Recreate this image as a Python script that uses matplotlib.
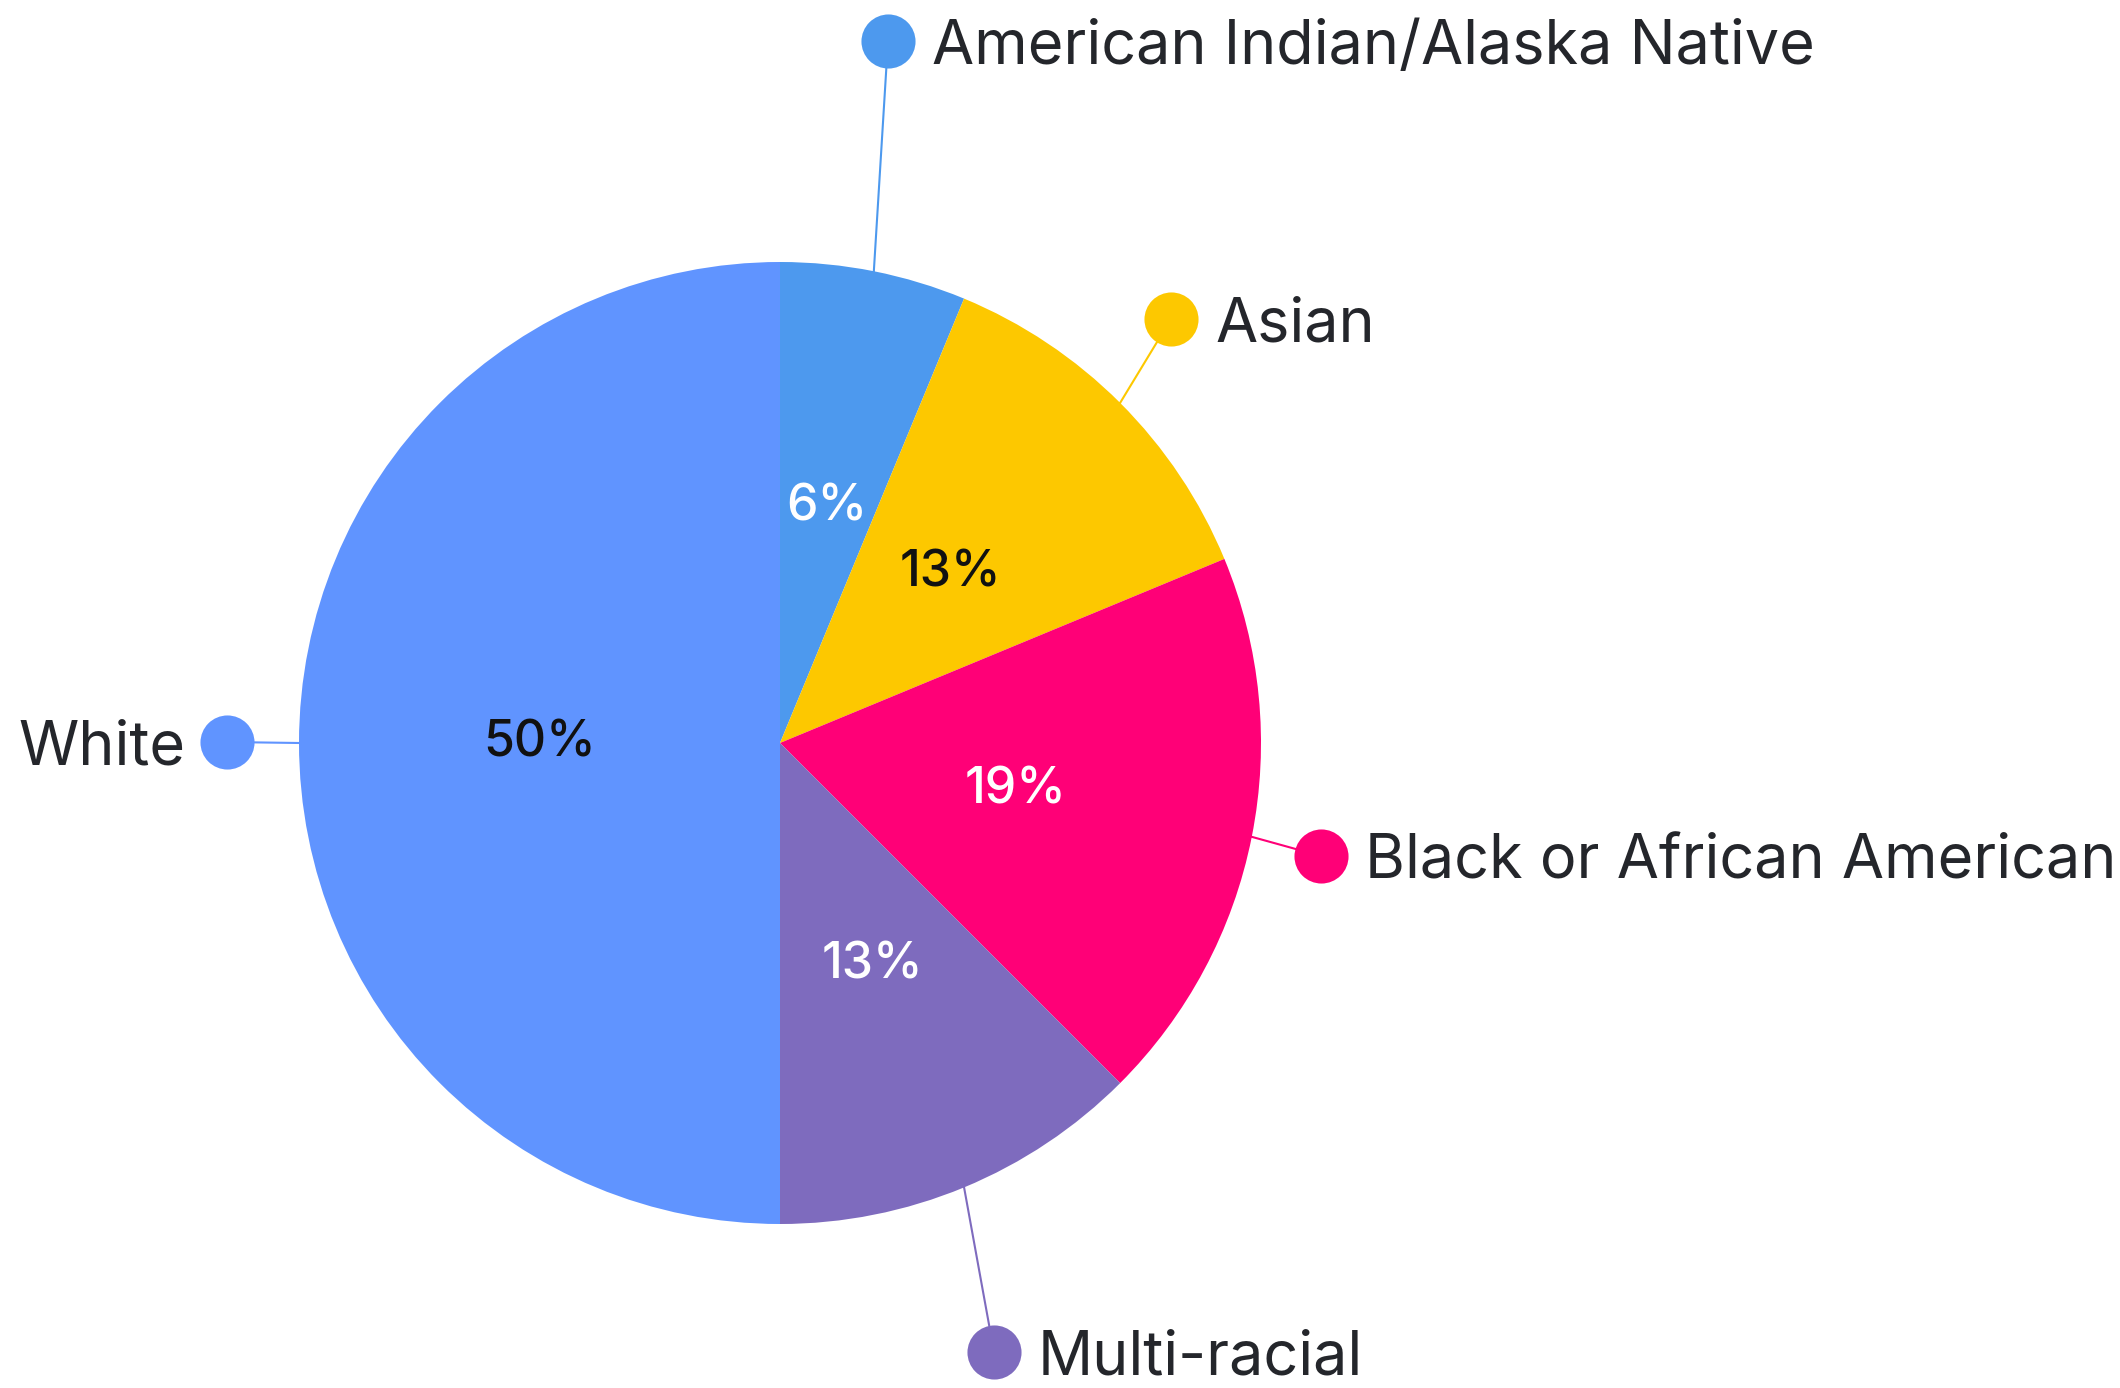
import matplotlib.pyplot as plt
import numpy as np

# data
groups = ["American Indian/Alaska Native", "Asian", "Black or African American",
          "Multi-racial", "White"]
counts = [1, 2, 3, 2, 8]
colors = ["#4D99EE", "#FDC800", "#FF0077", "#7E6BBE", "#6094FF"]
pct_colors = ["white", "#111111", "white", "white", "#111111"]

# layout (pixels, y from top)
cx, cy, r = 780, 743, 481
dots = [(888, 41), (1171, 319), (1321, 856), (994, 1352), (227, 742)]
sides = ["right", "right", "right", "right", "left"]

H = 1388
plt.rcParams['font.family'] = ['Inter', 'DejaVu Sans']

fig = plt.figure(figsize=(21.2, 13.88), dpi=100)
ax = fig.add_axes([0, 0, 1, 1])

wedges, _, autotexts = ax.pie(counts, colors=colors, startangle=90, counterclock=False,
                              center=(cx, H - cy), radius=r, pctdistance=0.5,
                              autopct=lambda p: f"{int(p + 0.5)}%",
                              textprops=dict(fontsize=36, fontweight='medium'))
for t, c in zip(autotexts, pct_colors):
    t.set_color(c)

for w, name, col, (dx, dy), side in zip(wedges, groups, colors, dots, sides):
    mid = np.deg2rad((w.theta1 + w.theta2) / 2)
    ex, ey = cx + r * np.cos(mid), H - cy + r * np.sin(mid)
    ax.plot([ex, dx], [ey, H - dy], color=col, lw=1.5, zorder=1)
    ax.scatter([dx], [H - dy], s=54**2 * 0.52, color=col, zorder=3, linewidths=0)
    if side == "right":
        ax.text(dx + 44, H - dy, name, ha='left', va='center_baseline', fontsize=44, color='#24262B')
    else:
        ax.text(dx - 42, H - dy, name, ha='right', va='center_baseline', fontsize=44, color='#24262B')

ax.set_xlim(0, 2120)
ax.set_ylim(0, H)
ax.set_aspect('equal')
ax.axis('off')

fig.savefig("out.png", dpi=100, facecolor='white')
